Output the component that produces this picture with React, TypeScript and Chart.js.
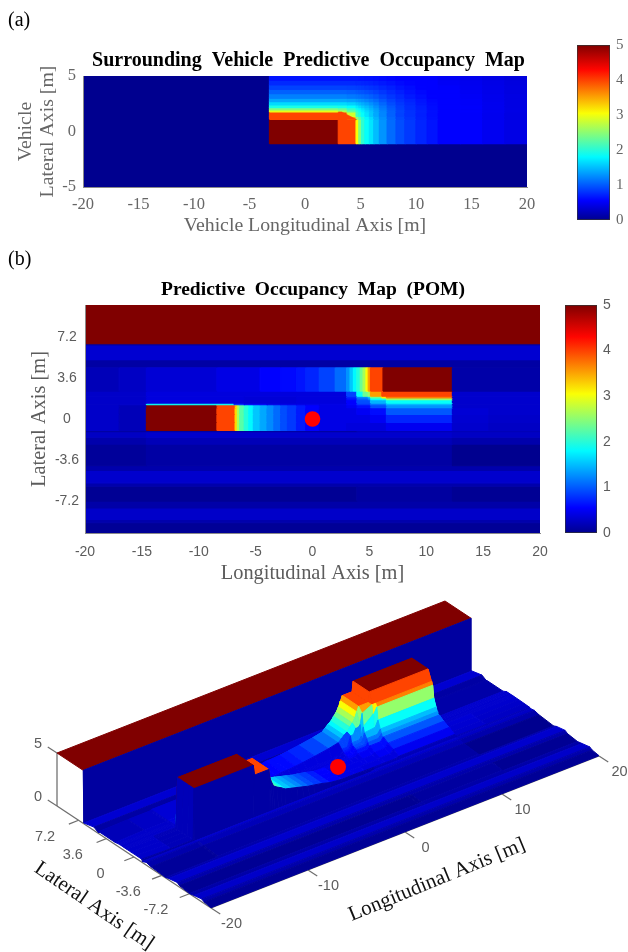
import React, { useEffect, useRef } from "react";
import { Chart, registerables } from "chart.js";
Chart.register(...registerables);

/* ---------- panel (a): surrounding vehicle map ---------- */
const aTitle = "Surrounding  Vehicle  Predictive  Occupancy  Map";
const aLonEdges = [-20,-3.2,3,3.8,4.6,4.85,5.1,5.4,5.8,6.2,6.7,7.4,8.2,9,10,11,12,14,16,18,20];
const aLatEdges = [-5,-1.1,1.1,1.35,1.76,1.95,2.15,2.4,2.7,3,3.4,3.8,4.2,4.6,5];
const aCells = [
  [0,0,0,0,0,0,0,0,0,0,0,0,0,0,0,0,0,0,0,0],
  [0,5,4.04,4.04,3.1,2.5,2.1,1.9,1.75,1.55,1.35,1.15,1,.9,.8,.72,.62,.55,.48,.42],
  [0,4.04,4.04,3.5,2.6,2.3,2.05,1.85,1.7,1.5,1.32,1.13,.98,.88,.78,.7,.6,.53,.47,.41],
  [0,4.04,4.04,2.9,2.2,2.05,1.9,1.75,1.6,1.45,1.28,1.1,.95,.86,.77,.69,.6,.53,.47,.41],
  [0,3,2.75,2.35,2.1,1.95,1.82,1.7,1.58,1.43,1.27,1.1,.96,.86,.78,.7,.61,.54,.48,.42],
  [0,2.5,2.4,2.15,1.95,1.85,1.75,1.63,1.52,1.4,1.24,1.08,.95,.85,.77,.69,.6,.53,.47,.42],
  [0,2,1.98,1.88,1.78,1.7,1.62,1.54,1.45,1.33,1.2,1.05,.93,.84,.76,.68,.6,.53,.47,.41],
  [0,1.7,1.7,1.65,1.58,1.53,1.48,1.42,1.34,1.25,1.13,1,.9,.82,.74,.67,.59,.52,.47,.41],
  [0,1.45,1.45,1.42,1.38,1.35,1.32,1.27,1.22,1.15,1.05,.95,.86,.79,.72,.65,.58,.52,.46,.41],
  [0,1.25,1.25,1.22,1.2,1.18,1.16,1.13,1.09,1.04,.97,.89,.82,.75,.69,.63,.57,.51,.46,.41],
  [0,1.1,1.1,1.08,1.06,1.04,1.03,1,.98,.94,.89,.83,.77,.71,.66,.61,.55,.5,.45,.4],
  [0,.95,.95,.94,.93,.92,.91,.89,.87,.85,.81,.77,.72,.68,.63,.58,.53,.48,.44,.4],
  [0,.82,.82,.82,.81,.81,.8,.79,.78,.76,.74,.71,.67,.64,.6,.56,.51,.47,.43,.39],
  [0,.72,.72,.72,.72,.71,.71,.7,.7,.69,.67,.65,.63,.6,.57,.54,.5,.46,.42,.38],
];
const aCorner = [[3,1.76],[3.3,1.76],[4.6,1.1],[4.6,1.05],[3,1.05]];
const aLonTicks = [-20,-15,-10,-5,0,5,10,15,20];
const aLatTicks = [-5,0,5];

/* ---------- panel (b) and the surface: predictive occupancy map ---------- */
const bTitle = "Predictive  Occupancy  Map  (POM)";
const pomLon = [-20,-17,-14.7,-14.6,-8.5,-8.4,-6.9,-6.8,-6.6,-6.4,-6,-5.6,-5.2,-4.6,-4,-3.4,-2.8,-2.2,-1.4,-0.6,0.6,2,3,3.3,3.6,3.9,4.2,4.45,4.7,4.9,5.1,6.1,6.2,6.5,7.5,9.5,12.25,12.3,15.5,18,20];
const pomLat = [-10,-9.1,-8.8,-7.8,-7.2,-5.9,-5.6,-4.5,-4.1,-2.2,-1.6,-1.1,-1,-0.3,0.4,1,1.15,1.25,1.4,1.7,1.85,2,2.45,4.55,4.6,4.7,5.2,6.5,6.6,10];
const tail1 = [[-17,.28],[-14.6,.2],[-8.4,5],[-6.8,4.04],[-6.6,3.3],[-6.4,2.7],[-6,2.3],[-5.6,2.05],[-5.2,1.85],[-4.6,1.6],[-4,1.45],[-3.4,1.3],[-2.8,1.15],[-2.2,1],[-1.4,.9],[-.6,.75],[.6,.55]];
const tail2 = [[-17,.2],[-14.6,.26],[-8.4,.34],[-4.6,.42],[-2.8,.55],[-1.4,.66],[-.6,.72],[.6,.8],[2,.95],[3,1.15],[3.3,1.35],[3.6,1.6],[3.9,1.85],[4.2,2.05],[4.45,2.4],[4.7,2.7],[4.9,3.1],[5.1,3.6],[6.2,4.04],[12.3,5],[20,.12]];
const pomRows = [
  [[20,.03]],
  [[20,.14]],
  [[20,.28]],
  [[20,.12]],
  [[3.9,.02],[12.3,.08],[20,.02]],
  [[20,.14]],
  [[20,.3]],
  [[20,.14]],
  [[-14.6,.05],[12.3,.1],[20,0]],
  [[-14.6,.14],[12.3,.2],[20,.14]],
  [[-14.6,.26],[12.3,.3],[20,.26]],
  [[3.9,.1],[12.3,.2],[20,.2]],
  [...tail1,[3,.42],[6.5,.38],[12.3,.48],[15.5,.3],[20,.26]],
  [...tail1,[3,.42],[5.1,.42],[6.5,.5],[12.3,.8],[15.5,.32],[20,.28]],
  [...tail1,[3.9,.42],[5.1,.5],[6.5,.68],[12.3,1.05],[15.5,.34],[20,.3]],
  [...tail1,[3,.42],[3.9,.5],[5.1,.7],[6.5,1],[12.3,1.35],[20,.3]],
  [...tail1,[3,.42],[3.9,.5],[5.1,.7],[6.5,1],[12.3,1.35],[20,.3]],
  [[-14.6,.28],[-8,1.9],[-7,1.5],[-6,.8],[-4,.5],[3,.42],[3.9,.55],[5.1,.9],[6.5,1.2],[12.3,1.55],[20,.3]],
  [[-14.6,.28],[-6,.38],[-2,.35],[3,.38],[3.9,.62],[5.1,1],[6.5,1.5],[12.3,1.9],[20,.3]],
  [[-14.6,.28],[-6,.38],[-2,.35],[3,.38],[3.9,.7],[4.9,1.1],[5.1,1.3],[6.1,1.9],[6.5,2],[12.3,2.6],[20,.3]],
  [[-14.6,.28],[-6,.38],[-2,.35],[3,.38],[3.9,.8],[4.9,1.3],[5.1,1.6],[6.1,2.4],[6.5,3.2],[12.3,3.75],[20,.3]],
  [[-14.6,.28],[3,.38],[3.9,.95],[4.45,1.9],[4.9,2.4],[5.1,2.6],[6.1,3.6],[12.3,4.04],[20,.3]],
  tail2,
  tail2,
  [[20,.1]],
  [[20,.1]],
  [[20,.32]],
  [[20,.08]],
  [[20,5]],
];
const bLonTicks = [-20,-15,-10,-5,0,5,10,15,20];
const bLatTicks = [7.2,3.6,0,-3.6,-7.2];
const egoB = [{ x: 0, y: 0 }];
const egoSurface = [0, -1.3, 1.95];
const sLonTicks = [-20,-10,0,10,20];
const sLatTicks = [7.2,3.6,0,-3.6,-7.2];
const sZTicks = [0,5];
const barTicks = [0,1,2,3,4,5];
const barStops = [0,.11,.36,.61,.86,1];

/* ---------- helpers ---------- */
const clamp = (v: number) => Math.max(0, Math.min(1, v));
function jet(v: number) {
  const t = v / 5;
  const r = clamp(Math.min(4 * t - 1.5, -4 * t + 4.5));
  const g = clamp(Math.min(4 * t - 0.5, -4 * t + 3.5));
  const b = clamp(Math.min(4 * t + 0.5625, -4 * t + 2.5));
  return `rgb(${Math.round(r * 255)},${Math.round(g * 255)},${Math.round(b * 255)})`;
}
function poly(points: { x: number; y: number }[], color: string, width = 1.2) {
  return {
    data: [...points, points[0]], showLine: true, fill: "shape", tension: 0,
    backgroundColor: color, borderColor: color, borderWidth: width, pointRadius: 0,
  };
}
function cellDatasets(lons: number[], lats: number[], vals: number[][]) {
  const out: any[] = [];
  const cols = lons.length - 1;
  vals.forEach((row, j) => {
    let start = 0;
    for (let i = 0; i < cols; i++) {
      if (i + 1 < cols && row[i + 1] === row[start]) continue;
      const x0 = lons[start], x1 = lons[i + 1], y0 = lats[j], y1 = lats[j + 1];
      out.push(poly([{ x: x0, y: y0 }, { x: x1, y: y0 }, { x: x1, y: y1 }, { x: x0, y: y1 }], jet(row[start])));
      start = i + 1;
    }
  });
  return out;
}
const decodeRow = (runs: number[][]) =>
  pomLon.map((lon) => (runs.find((r) => lon < r[0]) || runs[runs.length - 1])[1]);
const pomNodes = pomRows.map(decodeRow);

const proj = (lon: number, lat: number, z: number) => ({
  x: 211 + (lon + 20) * 9.7 - (lat + 10) * 7.7,
  y: 908 - (lon + 20) * 3.8 - (lat + 10) * 5.1 - z * 10.6,
});
const GREY = "#6e6e6e";
const SERIF = "'Liberation Serif', serif";
const SANS = "'Liberation Sans', sans-serif";
const lineSet = (points: { x: number; y: number }[], color: string, width: number) => ({
  data: points, showLine: true, fill: false, tension: 0, borderColor: color, borderWidth: width, pointRadius: 0,
});

const headingPlugin = {
  id: "heading",
  afterDraw(chart: any) {
    const h = chart.options.plugins.heading;
    if (!h || !h.text) return;
    const { ctx } = chart;
    ctx.save();
    ctx.font = `bold ${h.size}px ${SERIF}`;
    ctx.fillStyle = "#000";
    ctx.textAlign = "center";
    ctx.textBaseline = "middle";
    ctx.fillText(h.text, h.x, h.y);
    ctx.restore();
  },
};

function heatChart(canvas: HTMLCanvasElement, c: any) {
  const H = canvas.height, W = canvas.width;
  return new Chart(canvas, {
    type: "scatter",
    data: { datasets: c.datasets },
    options: {
      responsive: false, animation: false, events: [],
      layout: { autoPadding: false, padding: { left: 0, right: W - c.right, top: c.top, bottom: 0 } },
      plugins: {
        legend: { display: false }, tooltip: { enabled: false },
        heading: { text: c.title, size: c.titleSize, x: c.titleX, y: c.titleY },
      },
      scales: {
        x: {
          type: "linear", min: -20, max: 20,
          afterBuildTicks: (s: any) => { s.ticks = c.xTicks.map((value: number) => ({ value })); },
          afterFit: (s: any) => { s.height = H - c.bottom; },
          ticks: { autoSkip: false, maxRotation: 0, color: c.tickColor, font: c.tickFont, padding: c.xTickPad },
          grid: { display: false, drawTicks: false }, border: { color: "#8a8a8a", z: 1 },
          title: { display: true, text: c.xTitle, color: c.titleColor, font: { family: SERIF, size: c.axisSize, lineHeight: 1.1 }, padding: { top: 0, bottom: c.xTitlePad } },
        },
        y: {
          type: "linear", min: c.yMin, max: c.yMax,
          afterBuildTicks: (s: any) => { s.ticks = c.yTicks.map((value: number) => ({ value })); },
          afterFit: (s: any) => { s.width = c.left; },
          ticks: { autoSkip: false, color: c.tickColor, font: c.tickFont, padding: c.yTickPad, crossAlign: c.cross },
          grid: { display: false, drawTicks: false }, border: { color: "#8a8a8a", z: 1 },
          title: { display: true, text: c.yTitle, color: c.titleColor, font: { family: SERIF, size: c.axisSize, lineHeight: c.yLine }, padding: { top: c.yTitlePad, bottom: 0 } },
        },
      },
    } as any,
    plugins: [headingPlugin],
  });
}

function barChart(canvas: HTMLCanvasElement, c: any) {
  const W = canvas.width;
  return new Chart(canvas, {
    type: "bar",
    data: {
      labels: [""],
      datasets: [{
        data: [[0, 5]] as any, barPercentage: 1, categoryPercentage: 1, borderWidth: 1, borderColor: "#333", borderSkipped: false,
        backgroundColor: (ctx: any) => {
          const a = ctx.chart.chartArea;
          if (!a) return "#000";
          const g = ctx.chart.ctx.createLinearGradient(0, a.bottom, 0, a.top);
          barStops.forEach((s) => g.addColorStop(s, jet(s === 0 ? 0 : s === 1 ? 5 : s * 5 + 0.05)));
          return g;
        },
      }],
    },
    options: {
      responsive: false, animation: false, events: [],
      layout: { autoPadding: false, padding: { left: c.left, right: 0, top: c.top, bottom: c.bottom } },
      plugins: { legend: { display: false }, tooltip: { enabled: false } },
      scales: {
        x: { display: false },
        y: {
          position: "right", min: 0, max: 5,
          afterBuildTicks: (s: any) => { s.ticks = barTicks.map((value) => ({ value })); },
          afterFit: (s: any) => { s.width = W - c.right; },
          ticks: { color: c.tickColor, font: c.tickFont, padding: c.pad },
          grid: { display: false, drawTicks: false }, border: { display: false },
        },
      },
    } as any,
  });
}

function surfaceDatasets() {
  const far: any[] = [];
  // axes under the surface
  far.push(lineSet([proj(-20, 10, 0), proj(-20, 10, 5)], "#8c8c8c", 1.6));
  far.push(lineSet([proj(-20, 10, 0), proj(-20, -10, 0)], GREY, 1.3));
  far.push(lineSet([proj(-20, -10, 0), proj(20, -10, 0)], GREY, 1.3));
  sZTicks.forEach((z) => far.push(lineSet([proj(-20, 10, z), proj(-20, 11.2, z)], GREY, 1.2)));
  sLatTicks.forEach((l) => far.push(lineSet([proj(-20, l, 0), proj(-21, l, 0)], GREY, 1.2)));
  sLonTicks.forEach((l) => far.push(lineSet([proj(l, -10, 0), proj(l, -11.2, 0)], GREY, 1.2)));
  const n = pomLat.length;
  const zAt = (j: number, i: number) => pomNodes[Math.min(j, pomNodes.length - 1)][i];
  for (let j = n - 2; j >= 0; j--) {
    let end = pomLon.length - 1;
    for (let i = pomLon.length - 2; i >= 0; i--) {
      // quads with the same height along both long edges are one flat strip
      if (i > 0 && zAt(j, i - 1) === zAt(j, i) && zAt(j + 1, i - 1) === zAt(j + 1, i) && zAt(j, i) === zAt(j, end) && zAt(j + 1, i) === zAt(j + 1, end)) continue;
      far.push(poly([
        proj(pomLon[i], pomLat[j], zAt(j, i)),
        proj(pomLon[end], pomLat[j], zAt(j, end)),
        proj(pomLon[end], pomLat[j + 1], zAt(j + 1, end)),
        proj(pomLon[i], pomLat[j + 1], zAt(j + 1, i)),
      ], jet(zAt(j, i)), 1));
      end = i;
    }
  }
  const e = proj(egoSurface[0], egoSurface[1], egoSurface[2]);
  far.push({ data: [e], pointRadius: 8, pointBackgroundColor: "#ff0000", pointBorderWidth: 0 });
  return far.reverse();
}

const surfaceText = {
  id: "surfaceText",
  afterDraw(chart: any) {
    const { ctx, scales } = chart;
    const put = (txt: string, p: { x: number; y: number }, dx: number, dy: number, color: string, font: string, rot = 0) => {
      ctx.save();
      ctx.translate(scales.x.getPixelForValue(p.x + dx), scales.y.getPixelForValue(p.y + dy));
      ctx.rotate(rot);
      ctx.font = font; ctx.fillStyle = color; ctx.textAlign = "center"; ctx.textBaseline = "middle";
      ctx.fillText(txt, 0, 0);
      ctx.restore();
    };
    const f = `14.5px ${SANS}`;
    sLatTicks.forEach((l) => put(String(l), proj(-20, l, 0), -33.5, 16.5, "#5c5c5c", f));
    sLonTicks.forEach((l) => put(String(l), proj(l, -10, 0), 20.5, 16, "#5c5c5c", f));
    sZTicks.forEach((z) => put(String(z), proj(-20, 10, z), -19, -9, "#5c5c5c", f));
    put("Lateral Axis [m]", { x: 94, y: 906 }, 0, 0, "#111", `21px ${SERIF}`, 0.6);
    put("Longitudinal Axis [m]", { x: 437, y: 880 }, 0, 0, "#111", `21px ${SERIF}`, -0.39);
  },
};

const fullBox = (x0: number, x1: number, y0: number, y1: number) => [
  { x: x0, y: y0 }, { x: x1, y: y0 }, { x: x1, y: y1 }, { x: x0, y: y1 },
];

export default function App() {
  const aRef = useRef<HTMLCanvasElement>(null);
  const aBar = useRef<HTMLCanvasElement>(null);
  const bRef = useRef<HTMLCanvasElement>(null);
  const bBar = useRef<HTMLCanvasElement>(null);
  const sRef = useRef<HTMLCanvasElement>(null);
  useEffect(() => {
    const charts: Chart[] = [];
    const aGrid = cellDatasets(aLonEdges, aLatEdges, aCells).filter((d) => d.backgroundColor !== jet(0));
    const aSets = [
      poly(aCorner.map(([x, y]) => ({ x, y })), jet(4.04), 0.6),
      ...aGrid.reverse(),
      poly(fullBox(-20, 20, -5, 5), jet(0)),
    ];
    charts.push(heatChart(aRef.current!, {
      datasets: aSets, title: aTitle, titleSize: 20, titleX: 308.5, titleY: 61, top: 76,
      left: 83, right: 527, bottom: 187, yMin: -5, yMax: 5, xTicks: aLonTicks, yTicks: aLatTicks,
      tickColor: "#666", tickFont: { family: SERIF, size: 16.5 }, xTickPad: 8, yTickPad: 7, cross: "near",
      xTitle: "Vehicle Longitudinal Axis [m]", yTitle: ["Vehicle", "Lateral Axis [m]"], titleColor: "#666",
      axisSize: 19.8, xTitlePad: 8, yTitlePad: 14, yLine: 1.15,
    }));
    charts.push(barChart(aBar.current!, {
      left: 17, top: 15, bottom: 15, right: 50, tickColor: "#666", tickFont: { family: SERIF, size: 15 }, pad: 6,
    }));
    const bSets = [
      { data: egoB, pointRadius: 7.8, pointBackgroundColor: "#ff0000", pointBorderWidth: 0 },
      ...cellDatasets(pomLon, pomLat, pomNodes).reverse(),
    ];
    charts.push(heatChart(bRef.current!, {
      datasets: bSets, title: bTitle, titleSize: 19.5, titleX: 313, titleY: 45, top: 60,
      left: 85, right: 540, bottom: 288, yMin: -10, yMax: 10, xTicks: bLonTicks, yTicks: bLatTicks,
      tickColor: "#5c5c5c", tickFont: { family: SANS, size: 14 }, xTickPad: 11, yTickPad: 6, cross: "center",
      xTitle: "Longitudinal Axis [m]", yTitle: "Lateral Axis [m]", titleColor: "#5c5c5c",
      axisSize: 20.4, xTitlePad: 5, yTitlePad: 28, yLine: 1.1,
    }));
    charts.push(barChart(bBar.current!, {
      left: 15, top: 60, bottom: 57, right: 47, tickColor: "#5c5c5c", tickFont: { family: SANS, size: 14 }, pad: 6,
    }));
    charts.push(new Chart(sRef.current!, {
      type: "scatter",
      data: { datasets: surfaceDatasets() as any },
      options: {
        responsive: false, animation: false, events: [],
        layout: { autoPadding: false, padding: 0 },
        plugins: { legend: { display: false }, tooltip: { enabled: false } },
        scales: {
          x: { type: "linear", min: 0, max: 628, display: false },
          y: { type: "linear", min: 590, max: 952, reverse: true, display: false },
        },
      } as any,
      plugins: [surfaceText],
    }));
    return () => charts.forEach((c) => c.destroy());
  }, []);
  const abs = (left: number, top: number): React.CSSProperties => ({ position: "absolute", left, top, filter: "blur(0.55px)" });
  const tag: React.CSSProperties = { position: "absolute", left: 8, fontFamily: SERIF, fontSize: 20, lineHeight: "22px", color: "#000" };
  return (
    <div style={{ position: "absolute", left: 0, top: 0, width: 628, height: 952, overflow: "hidden", background: "#fff" }}>
      <canvas ref={aRef} width={617} height={245} style={abs(0, 0)} />
      <canvas ref={aBar} width={68} height={205} style={abs(560, 30)} />
      <canvas ref={bRef} width={626} height={345} style={abs(0, 245)} />
      <canvas ref={bBar} width={78} height={345} style={abs(550, 245)} />
      <canvas ref={sRef} width={628} height={362} style={abs(0, 590)} />
      <div style={{ ...tag, top: 8 }}>(a)</div>
      <div style={{ ...tag, top: 247 }}>(b)</div>
    </div>
  );
}
